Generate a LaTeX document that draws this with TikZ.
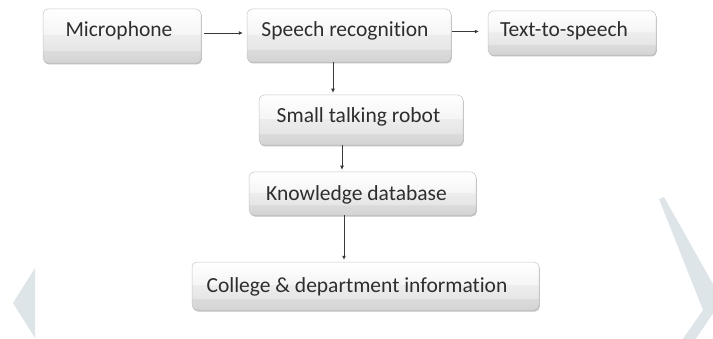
\documentclass[tikz,border=0pt]{standalone}
\usepackage{fontspec}
\setmainfont[Ligatures=NoCommon]{Carlito}
\usetikzlibrary{arrows.meta,shadows,calc}
\definecolor{bandA}{HTML}{D4D4D4}
\definecolor{bandB}{HTML}{DBDBDB}
\definecolor{bandC}{HTML}{E6E6E6}
\definecolor{bandD}{HTML}{EDEDED}
\definecolor{bandE}{HTML}{F5F5F5}
\definecolor{bandF}{HTML}{FFFFFF}
\definecolor{chev}{HTML}{DEE5E9}
\definecolor{txt}{HTML}{2E2E2E}
\definecolor{linec}{HTML}{3A3A3A}
\pgfdeclareverticalshading{boxshade}{100bp}{color(0bp)=(bandA); color(25bp)=(bandA); color(36.5bp)=(bandB); color(37bp)=(bandC); color(51bp)=(bandD); color(51.5bp)=(bandE); color(75bp)=(bandF); color(100bp)=(bandF)}
\tikzset{
  boxnode/.style={draw=black!22, line width=0.5pt, rounded corners=5pt, shading=boxshade,
    inner sep=0pt, drop shadow={shadow xshift=0.8pt, shadow yshift=-1.5pt, opacity=0.25, fill=black}},
  lbl/.style={anchor=base, inner sep=0pt, text=txt, font=\fontsize{21.5}{24}\selectfont},
  arr/.style={draw=linec, line width=0.7pt, -{Latex[length=4pt,width=4pt]}}
}
\begin{document}
\begin{tikzpicture}[x=1pt,y=1pt]
\useasboundingbox (0,0) rectangle (713,338);
% decorative chevrons
\begin{scope}
\clip (0,0) rectangle (713,338);
\fill[chev] (35,70) -- (13,35) -- (35,0) -- cycle;
\fill[chev] (659,139) -- (664,141) -- (722,38) -- (695,-2) -- (682,-2) -- (703,28) -- cycle;
\end{scope}
% boxes
\node[boxnode, minimum width=158pt, minimum height=54pt] (mic) at (122,302) {};
\node[boxnode, minimum width=204pt, minimum height=53pt] (speech) at (349,302.5) {};
\node[boxnode, minimum width=168pt, minimum height=44pt] (tts) at (572,305) {};
\node[boxnode, minimum width=204pt, minimum height=50pt] (robot) at (361,218) {};
\node[boxnode, minimum width=227pt, minimum height=43pt] (kdb) at (362.5,144.5) {};
\node[boxnode, minimum width=347pt, minimum height=48pt] (college) at (365.5,52) {};
% labels
\node[lbl] (micT) at (119,301) {Microphone};
\node[lbl] (speechT) at (345,301) {Speech recognition};
\node[lbl] (ttsT) at (564,301) {Text-to-speech};
\node[lbl] (robotT) at (358.5,215) {Small talking robot};
\node[lbl] (kdbT) at (356.5,138) {Knowledge database};
\node[lbl] (collegeT) at (357,46) {College \& department information};
% connectors
\draw[arr, shorten <=3pt, shorten >=4pt] ([yshift=3pt]mic.east) -- ([yshift=2.5pt]speech.west);
\draw[arr, shorten <=1pt, shorten >=9pt] ([yshift=4pt]speech.east) -- ([yshift=1.5pt]tts.west);
\draw[arr, shorten >=2pt] ([xshift=-16pt]speech.south) -- ([xshift=-28pt]robot.north);
\draw[arr, shorten >=2pt] ([xshift=-19pt]robot.south) -- ([xshift=-20.5pt]kdb.north);
\draw[arr, shorten >=2pt] ([xshift=-18.5pt]kdb.south) -- ([xshift=-21.5pt]college.north);
\end{tikzpicture}
\end{document}
